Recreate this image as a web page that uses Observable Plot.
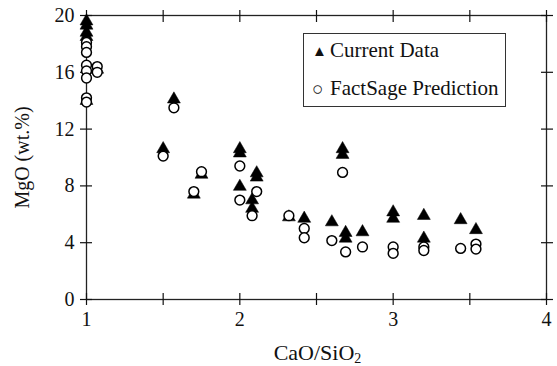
<!DOCTYPE html>
<html><head><meta charset="utf-8">
<script src="https://cdn.jsdelivr.net/npm/d3@7"></script>
<script src="https://cdn.jsdelivr.net/npm/@observablehq/plot@0.6"></script>
<style>
body{margin:0;background:#fff;}
#wrap{position:relative;width:557px;height:366px;overflow:hidden;font-family:"Liberation Serif","Times New Roman",serif;color:#111;}
#legend{position:absolute;left:303px;top:33px;width:203px;height:74px;border:1.3px solid #333;box-sizing:border-box;font-size:21px;background:#fff;}
#legend .row{position:absolute;left:8px;white-space:nowrap;line-height:22px;}
#legend .sym{display:inline-block;width:18px;font-size:15px;vertical-align:1px;}
#legend .sym.c{font-size:19px;vertical-align:0;}
#xlabel{position:absolute;left:0;width:557px;top:342px;text-align:center;font-size:22px;line-height:22px;padding-left:78px;box-sizing:border-box;}
#xlabel sub{font-size:14px;vertical-align:-3px;line-height:0;}
</style></head>
<body>
<div id="wrap">
<div id="chart"></div>
<div id="legend">
  <div class="row" style="top:5px"><span class="sym">&#9650;</span>Current Data</div>
  <div class="row" style="top:43px"><span class="sym c">&#9675;</span>FactSage Prediction</div>
</div>
<div id="xlabel">CaO/SiO<sub>2</sub></div>
</div>
<script>
const currentX = [1.0,1.0,1.0,1.0,1.0,1.07,1.50,1.57,1.70,1.75,2.0,2.0,2.0,2.08,2.08,2.11,2.11,2.32,2.42,2.60,2.67,2.67,2.69,2.69,2.80,3.0,3.0,3.20,3.20,3.44,3.54];
const currentY = [19.6,19.3,18.8,18.5,14.0,16.2,10.6,14.1,7.4,8.8,10.6,10.3,7.95,7.0,6.4,8.9,8.6,5.8,5.7,5.45,10.6,10.2,4.7,4.3,4.75,6.15,5.7,5.9,4.3,5.6,4.9];
const predX = [1.0,1.0,1.0,1.0,1.0,1.0,1.0,1.0,1.07,1.07,1.50,1.57,1.70,1.75,2.0,2.0,2.08,2.11,2.32,2.42,2.42,2.60,2.67,2.69,2.80,3.0,3.0,3.20,3.20,3.44,3.54,3.54];
const predY = [18.1,17.8,17.4,16.5,16.1,15.6,14.2,13.9,16.4,16.0,10.1,13.5,7.6,9.0,9.4,7.0,5.9,7.6,5.9,5.0,4.35,4.15,8.95,3.35,3.7,3.7,3.25,3.7,3.45,3.6,3.9,3.55];
const xTicks = [1, 1.5, 2, 2.5, 3, 3.5, 4];
const xLabelTicks = [1, 2, 3, 4];
const yTicks = [0, 4, 8, 12, 16, 20];

const current = currentX.map((x, i) => ({x, y: currentY[i]}));
const pred = predX.map((x, i) => ({x, y: predY[i]}));
const blank = () => "";

const chart = Plot.plot({
  width: 557, height: 366,
  marginLeft: 86, marginRight: 11, marginTop: 15, marginBottom: 67,
  style: {fontFamily: "'Liberation Serif','Times New Roman',serif", fontSize: "20px", color: "#111", background: "#fff"},
  x: {domain: [1, 4]},
  y: {domain: [0, 20]},
  marks: [
    Plot.frame({stroke: "#222", strokeWidth: 1.3}),
    Plot.axisX(xTicks, {anchor: "bottom", tickSize: 12, dy: -6, tickFormat: blank, label: null, strokeWidth: 1.2}),
    Plot.axisX(xTicks, {anchor: "top", tickSize: 12, dy: 6, tickFormat: blank, label: null, strokeWidth: 1.2}),
    Plot.axisX(xLabelTicks, {anchor: "bottom", tickSize: 0, tickPadding: 12, label: null, tickFormat: d => String(d), fontSize: 20}),
    Plot.axisY(yTicks, {anchor: "left", tickSize: 12, dx: 6, tickFormat: blank, label: null, strokeWidth: 1.2}),
    Plot.axisY(yTicks, {anchor: "right", tickSize: 12, dx: -6, tickFormat: blank, label: null, strokeWidth: 1.2}),
    Plot.axisY(yTicks, {anchor: "left", tickSize: 0, tickPadding: 12, label: "MgO (wt.%)", labelAnchor: "center", labelArrow: "none", labelOffset: 72, fontSize: 20}),
    Plot.dot(current, {x: "x", y: "y", symbol: "triangle", r: 4.8, fill: "#000", stroke: "#000", strokeWidth: 0.5}),
    Plot.dot(pred, {x: "x", y: "y", symbol: "circle", r: 4.9, fill: "#fff", stroke: "#000", strokeWidth: 1.5})
  ]
});
document.getElementById("chart").appendChild(chart);
</script>
</body></html>
